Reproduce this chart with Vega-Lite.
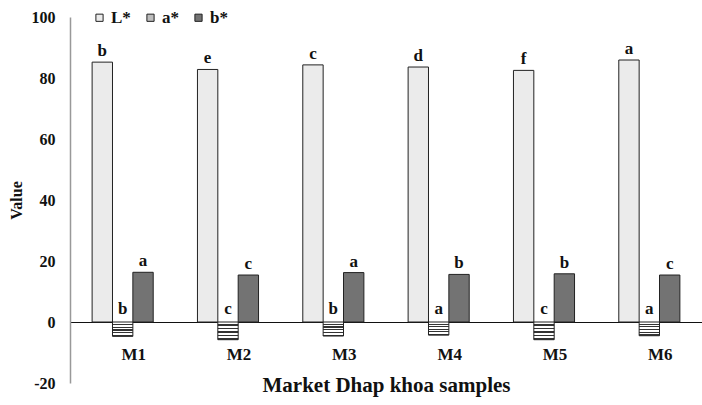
{
  "$schema": "https://vega.github.io/schema/vega-lite/v6.json",
  "width": 632,
  "height": 366,
  "autosize": {"type": "none"},
  "padding": {"left": 70, "top": 17, "right": 0, "bottom": 22},
  "background": "white",
  "config": {
    "view": {"stroke": null},
    "font": "Liberation Serif"
  },
  "data": {
    "values": [
      {"sample": "M1", "param": "L*", "value": 85.2, "letter": "b"},
      {"sample": "M1", "param": "a*", "value": -4.7, "letter": "b"},
      {"sample": "M1", "param": "b*", "value": 16.3, "letter": "a"},
      {"sample": "M2", "param": "L*", "value": 82.8, "letter": "e"},
      {"sample": "M2", "param": "a*", "value": -5.8, "letter": "c"},
      {"sample": "M2", "param": "b*", "value": 15.4, "letter": "c"},
      {"sample": "M3", "param": "L*", "value": 84.3, "letter": "c"},
      {"sample": "M3", "param": "a*", "value": -4.6, "letter": "b"},
      {"sample": "M3", "param": "b*", "value": 16.2, "letter": "a"},
      {"sample": "M4", "param": "L*", "value": 83.6, "letter": "d"},
      {"sample": "M4", "param": "a*", "value": -4.3, "letter": "a"},
      {"sample": "M4", "param": "b*", "value": 15.6, "letter": "b"},
      {"sample": "M5", "param": "L*", "value": 82.5, "letter": "f"},
      {"sample": "M5", "param": "a*", "value": -5.8, "letter": "c"},
      {"sample": "M5", "param": "b*", "value": 15.8, "letter": "b"},
      {"sample": "M6", "param": "L*", "value": 85.9, "letter": "a"},
      {"sample": "M6", "param": "a*", "value": -4.5, "letter": "a"},
      {"sample": "M6", "param": "b*", "value": 15.4, "letter": "c"}
    ]
  },
  "encoding": {
    "x": {
      "field": "sample",
      "type": "nominal",
      "scale": {"paddingInner": 0.42, "paddingOuter": 0.21},
      "axis": {
        "title": "Market Dhap khoa samples",
        "titleFont": "Liberation Serif",
        "titleFontSize": 21,
        "titleFontWeight": "bold",
        "titleColor": "#111",
        "titlePadding": 12,
        "labelAngle": 0,
        "labelFont": "Liberation Serif",
        "labelFontSize": 17,
        "labelFontWeight": "bold",
        "labelColor": "#111",
        "labelPadding": 24,
        "labelOffset": 11,
        "ticks": false,
        "tickSize": 0,
        "domain": true,
        "domainColor": "#111",
        "domainWidth": 1.2,
        "offset": -61,
        "grid": false
      }
    },
    "xOffset": {"field": "param", "type": "nominal", "sort": ["L*", "a*", "b*"]},
    "y": {
      "field": "value",
      "type": "quantitative",
      "scale": {"domain": [-20, 100], "nice": false, "zero": false},
      "axis": {
        "title": "Value",
        "titleFont": "Liberation Serif",
        "titleFontSize": 16,
        "titleFontWeight": "bold",
        "titleColor": "#111",
        "titlePadding": 7,
        "values": [-20, 0, 20, 40, 60, 80, 100],
        "labelExpr": "'' + datum.value",
        "labelFont": "Liberation Serif",
        "labelFontSize": 16,
        "labelFontWeight": "bold",
        "labelColor": "#111",
        "labelPadding": 15,
        "ticks": false,
        "tickSize": 0,
        "domainColor": "#999",
        "domainWidth": 1.5,
        "grid": false
      }
    }
  },
  "layer": [
    {
      "mark": {"type": "bar", "stroke": "#222", "strokeWidth": 1},
      "encoding": {
        "fill": {
          "condition": {
            "test": "datum.param === 'a*'",
            "value": {
              "gradient": "linear",
              "x1": 0, "y1": 0, "x2": 0, "y2": 1,
              "stops": [
                {"offset": 0, "color": "#ffffff"},
                {"offset": 0.12, "color": "#ffffff"},
                {"offset": 0.12, "color": "#333333"},
                {"offset": 0.2, "color": "#333333"},
                {"offset": 0.2, "color": "#ffffff"},
                {"offset": 0.32, "color": "#ffffff"},
                {"offset": 0.32, "color": "#333333"},
                {"offset": 0.4, "color": "#333333"},
                {"offset": 0.4, "color": "#ffffff"},
                {"offset": 0.52, "color": "#ffffff"},
                {"offset": 0.52, "color": "#333333"},
                {"offset": 0.6, "color": "#333333"},
                {"offset": 0.6, "color": "#ffffff"},
                {"offset": 0.72, "color": "#ffffff"},
                {"offset": 0.72, "color": "#333333"},
                {"offset": 0.8, "color": "#333333"},
                {"offset": 0.8, "color": "#ffffff"},
                {"offset": 0.9, "color": "#ffffff"},
                {"offset": 0.9, "color": "#333333"},
                {"offset": 1, "color": "#333333"}
              ]
            }
          },
          "field": "param",
          "type": "nominal",
          "sort": ["L*", "a*", "b*"],
          "scale": {
            "domain": ["L*", "a*", "b*"],
            "range": ["#ebebeb", "#bdbdbd", "#737373"]
          },
          "legend": {
            "title": null,
            "orient": "none",
            "legendX": 21,
            "legendY": -8,
            "direction": "horizontal",
            "symbolType": "square",
            "symbolSize": 52,
            "symbolStrokeColor": "#222",
            "symbolStrokeWidth": 1,
            "symbolOpacity": 1,
            "labelFont": "Liberation Serif",
            "labelFontSize": 17,
            "labelFontWeight": "bold",
            "labelColor": "#111",
            "labelOffset": 3,
            "columnPadding": 11
          }
        }
      }
    },
    {
      "transform": [{"filter": "datum.param !== 'a*'"}],
      "mark": {"type": "text", "baseline": "alphabetic", "dy": -6, "font": "Liberation Serif", "fontSize": 17, "fontWeight": "bold", "color": "#111"},
      "encoding": {"text": {"field": "letter"}}
    },
    {
      "transform": [{"filter": "datum.param === 'a*'"}],
      "mark": {"type": "text", "baseline": "alphabetic", "dy": -8, "font": "Liberation Serif", "fontSize": 17, "fontWeight": "bold", "color": "#111"},
      "encoding": {"text": {"field": "letter"}, "y": {"datum": 0}}
    }
  ]
}
